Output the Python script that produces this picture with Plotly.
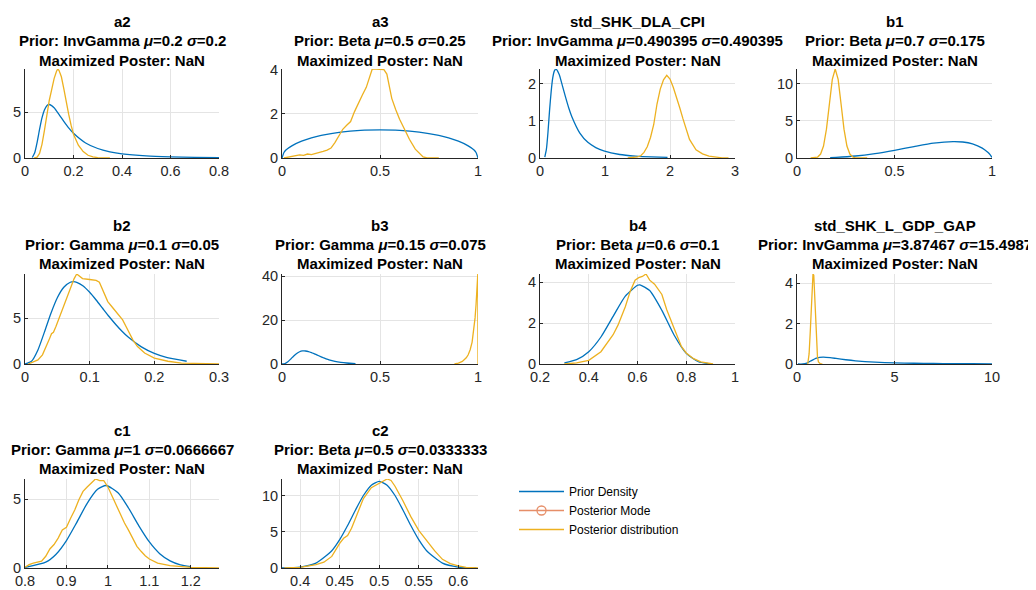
import plotly.graph_objects as go

# ---------------- data ----------------
names = ["a2", "a3", "std_SHK_DLA_CPI", "b1", "b2", "b3", "b4", "std_SHK_L_GDP_GAP", "c1", "c2"]
prior_desc = [
    "Prior: InvGamma <i>μ</i>=0.2 <i>σ</i>=0.2",
    "Prior: Beta <i>μ</i>=0.5 <i>σ</i>=0.25",
    "Prior: InvGamma <i>μ</i>=0.490395 <i>σ</i>=0.490395",
    "Prior: Beta <i>μ</i>=0.7 <i>σ</i>=0.175",
    "Prior: Gamma <i>μ</i>=0.1 <i>σ</i>=0.05",
    "Prior: Gamma <i>μ</i>=0.15 <i>σ</i>=0.075",
    "Prior: Beta <i>μ</i>=0.6 <i>σ</i>=0.1",
    "Prior: InvGamma <i>μ</i>=3.87467 <i>σ</i>=15.4987",
    "Prior: Gamma <i>μ</i>=1 <i>σ</i>=0.0666667",
    "Prior: Beta <i>μ</i>=0.5 <i>σ</i>=0.0333333",
]
mode_text = "Maximized Poster: NaN"

a2_prior_x = [0.03, 0.04, 0.05, 0.06, 0.07, 0.08, 0.09, 0.10, 0.12, 0.14, 0.16, 0.18, 0.20, 0.25, 0.30, 0.35, 0.40, 0.50, 0.60, 0.70, 0.80]
a2_prior_y = [0.06, 0.57, 1.72, 3.14, 4.40, 5.26, 5.73, 5.86, 5.51, 4.78, 4.01, 3.30, 2.71, 1.65, 1.04, 0.68, 0.46, 0.23, 0.13, 0.075, 0.047]
a2_post_x = [0.037, 0.05, 0.06, 0.07, 0.08, 0.09, 0.10, 0.11, 0.12, 0.13, 0.135, 0.14, 0.15, 0.16, 0.17, 0.18, 0.19, 0.20, 0.22, 0.24, 0.26, 0.28, 0.30, 0.35]
a2_post_y = [0.0, 0.1, 0.5, 1.5, 3.0, 4.8, 6.3, 7.5, 8.7, 9.5, 9.75, 9.6, 8.9, 7.6, 6.1, 4.8, 3.6, 2.6, 1.4, 0.7, 0.3, 0.12, 0.04, 0.0]

a3_prior_x = [0.0, 0.01, 0.02, 0.05, 0.1, 0.15, 0.2, 0.3, 0.4, 0.5, 0.6, 0.7, 0.8, 0.85, 0.9, 0.95, 0.98, 0.99, 1.0]
a3_prior_y = [0.0, 0.25, 0.36, 0.55, 0.76, 0.91, 1.02, 1.17, 1.25, 1.27, 1.25, 1.17, 1.02, 0.91, 0.76, 0.55, 0.36, 0.25, 0.0]
a3_post_x = [0.01, 0.03, 0.05, 0.07, 0.09, 0.11, 0.13, 0.15, 0.17, 0.19, 0.21, 0.23, 0.25, 0.27, 0.29, 0.31, 0.33, 0.35, 0.37, 0.39, 0.41, 0.43, 0.45, 0.46, 0.48, 0.50, 0.52, 0.535, 0.55, 0.56, 0.58, 0.60, 0.627, 0.65, 0.68, 0.70, 0.72, 0.74, 0.80]
a3_post_y = [0.0, 0.03, 0.05, 0.1, 0.14, 0.12, 0.18, 0.15, 0.2, 0.22, 0.3, 0.36, 0.45, 0.7, 1.0, 1.3, 1.48, 1.65, 2.1, 2.5, 2.85, 3.2, 3.8, 4.02, 4.03, 4.02, 4.0, 3.8, 3.1, 2.7, 2.2, 1.75, 1.27, 0.85, 0.4, 0.2, 0.05, 0.0, 0.0]

dla_prior_x = [0.074, 0.098, 0.123, 0.147, 0.172, 0.196, 0.221, 0.245, 0.294, 0.343, 0.392, 0.441, 0.490, 0.613, 0.736, 0.858, 0.981, 1.226, 1.471, 1.716, 1.962]
dla_prior_y = [0.026, 0.23, 0.70, 1.28, 1.79, 2.15, 2.34, 2.39, 2.25, 1.95, 1.64, 1.35, 1.11, 0.67, 0.42, 0.28, 0.19, 0.094, 0.052, 0.031, 0.019]
dla_post_x = [1.35, 1.45, 1.5, 1.55, 1.6, 1.65, 1.7, 1.75, 1.8, 1.85, 1.9, 1.95, 2.0, 2.05, 2.1, 2.15, 2.2, 2.25, 2.3, 2.4, 2.5, 2.6, 2.7, 2.8, 2.9]
dla_post_y = [0.0, 0.01, 0.03, 0.06, 0.15, 0.3, 0.55, 0.9, 1.45, 1.85, 2.1, 2.22, 2.12, 1.9, 1.65, 1.35, 1.05, 0.75, 0.5, 0.22, 0.11, 0.05, 0.02, 0.005, 0.0]

b1_prior_x = [0.17, 0.2, 0.3, 0.4, 0.5, 0.6, 0.7, 0.8, 0.85, 0.9, 0.95, 0.98, 0.99, 1.0]
b1_prior_y = [0.054, 0.086, 0.27, 0.60, 1.04, 1.54, 2.0, 2.22, 2.16, 1.90, 1.33, 0.73, 0.45, 0.08]
b1_post_x = [0.07, 0.09, 0.106, 0.121, 0.136, 0.151, 0.166, 0.181, 0.196, 0.211, 0.226, 0.241, 0.256, 0.271, 0.286, 0.30, 0.33, 0.36]
b1_post_y = [0.0, 0.03, 0.13, 0.53, 1.62, 3.89, 7.28, 10.6, 12.0, 10.6, 7.28, 3.89, 1.62, 0.53, 0.13, 0.03, 0.005, 0.0]

b2_prior_x = [0.0, 0.01, 0.02, 0.03, 0.04, 0.05, 0.06, 0.07, 0.075, 0.08, 0.09, 0.10, 0.11, 0.12, 0.13, 0.14, 0.15, 0.16, 0.18, 0.20, 0.22, 0.25]
b2_prior_y = [0.0, 0.29, 1.53, 3.47, 5.51, 7.22, 8.36, 8.90, 8.96, 8.90, 8.50, 7.81, 6.97, 6.07, 5.17, 4.33, 3.57, 2.90, 1.86, 1.15, 0.69, 0.30]
b2_post_x = [0.005, 0.014, 0.02, 0.027, 0.032, 0.037, 0.041, 0.044, 0.048, 0.055, 0.063, 0.071, 0.076, 0.080, 0.084, 0.089, 0.10, 0.11, 0.115, 0.12, 0.128, 0.136, 0.143, 0.151, 0.159, 0.167, 0.174, 0.185, 0.20, 0.221, 0.242, 0.273, 0.30]
b2_post_y = [0.0, 0.3, 0.45, 1.0, 1.75, 2.6, 3.3, 3.45, 4.1, 5.4, 6.8, 8.3, 9.3, 9.8, 9.6, 9.3, 9.2, 9.1, 8.9, 8.1, 6.8, 6.1, 5.5, 4.8, 3.7, 2.6, 1.9, 1.2, 0.65, 0.3, 0.1, 0.02, 0.0]

b3_prior_x = [0.0, 0.015, 0.03, 0.045, 0.06, 0.075, 0.09, 0.105, 0.1125, 0.12, 0.135, 0.15, 0.165, 0.18, 0.195, 0.21, 0.225, 0.24, 0.27, 0.30, 0.33, 0.375]
b3_prior_y = [0.0, 0.19, 1.02, 2.31, 3.67, 4.81, 5.57, 5.93, 5.97, 5.93, 5.67, 5.21, 4.65, 4.05, 3.45, 2.89, 2.38, 1.93, 1.24, 0.76, 0.46, 0.20]
b3_post_x = [0.88, 0.9, 0.92, 0.94, 0.95, 0.96, 0.97, 0.98, 0.985, 0.99, 0.995, 0.999, 1.0]
b3_post_y = [0.0, 0.4, 1.2, 2.8, 4.2, 6.5, 10.0, 16.0, 21.0, 27.0, 33.0, 41.0, 0.0]

b4_prior_x = [0.3, 0.35, 0.4, 0.45, 0.5, 0.55, 0.6, 0.61, 0.65, 0.7, 0.75, 0.8, 0.85, 0.9]
b4_prior_y = [0.053, 0.21, 0.60, 1.32, 2.33, 3.32, 3.85, 3.87, 3.59, 2.62, 1.42, 0.52, 0.11, 0.008]
b4_post_x = [0.30, 0.35, 0.40, 0.45, 0.50, 0.52, 0.55, 0.57, 0.59, 0.605, 0.62, 0.635, 0.65, 0.67, 0.70, 0.72, 0.75, 0.78, 0.80, 0.83, 0.86, 0.90, 0.91]
b4_post_y = [0.0, 0.05, 0.18, 0.6, 1.43, 1.9, 2.8, 3.55, 4.1, 4.22, 4.28, 4.4, 4.1, 3.9, 3.4, 2.65, 1.75, 0.86, 0.54, 0.26, 0.1, 0.02, 0.0]

gdp_prior_x = [0.05, 0.3, 0.5, 0.7, 1.0, 1.344, 1.7, 2.0, 2.5, 3.0, 4.0, 5.0, 6.0, 7.0, 8.0, 9.0, 10.0]
gdp_prior_y = [0.0, 0.001, 0.040, 0.150, 0.294, 0.341, 0.315, 0.276, 0.210, 0.158, 0.092, 0.057, 0.038, 0.026, 0.019, 0.014, 0.010]
gdp_post_x = [0.55, 0.62, 0.68, 0.73, 0.78, 0.82, 0.86, 0.9, 0.95, 1.0, 1.05, 1.1, 1.2, 1.3]
gdp_post_y = [0.0, 0.5, 1.6, 2.9, 4.1, 4.46, 4.4, 3.6, 2.2, 1.0, 0.35, 0.1, 0.01, 0.0]

c1_prior_x = [0.8, 0.85, 0.875, 0.9, 0.925, 0.95, 0.975, 0.9956, 1.025, 1.05, 1.075, 1.1, 1.125, 1.15, 1.175, 1.2]
c1_prior_y = [0.041, 0.42, 1.0, 1.99, 3.31, 4.69, 5.70, 5.98, 5.43, 4.33, 3.04, 1.89, 1.04, 0.52, 0.23, 0.093]
c1_post_x = [0.80, 0.81, 0.82, 0.84, 0.85, 0.86, 0.87, 0.88, 0.89, 0.90, 0.91, 0.92, 0.93, 0.94, 0.95, 0.96, 0.97, 0.98, 0.99, 1.00, 1.01, 1.02, 1.03, 1.04, 1.05, 1.06, 1.07, 1.08, 1.09, 1.10, 1.12, 1.15, 1.20, 1.268]
c1_post_y = [0.05, 0.24, 0.36, 0.5, 0.85, 1.38, 1.7, 2.17, 2.75, 2.95, 3.6, 4.2, 4.95, 5.55, 5.87, 6.16, 6.45, 6.33, 6.33, 5.87, 5.19, 4.52, 3.86, 3.26, 2.73, 2.17, 1.57, 1.21, 0.89, 0.65, 0.36, 0.17, 0.05, 0.01]

c2_prior_x = [0.377, 0.40, 0.42, 0.44, 0.45, 0.46, 0.47, 0.48, 0.49, 0.50, 0.51, 0.52, 0.53, 0.54, 0.55, 0.56, 0.58, 0.60, 0.623]
c2_prior_y = [0.012, 0.13, 0.67, 2.39, 3.92, 5.87, 8.02, 10.02, 11.45, 11.97, 11.45, 10.02, 8.02, 5.87, 3.92, 2.39, 0.67, 0.13, 0.012]
c2_post_x = [0.38, 0.40, 0.42, 0.43, 0.44, 0.45, 0.455, 0.46, 0.465, 0.47, 0.48, 0.49, 0.495, 0.50, 0.505, 0.51, 0.515, 0.52, 0.53, 0.54, 0.55, 0.56, 0.57, 0.58, 0.59, 0.60, 0.61, 0.625]
c2_post_y = [0.0, 0.09, 0.45, 0.8, 1.6, 3.4, 4.1, 4.5, 5.5, 6.9, 9.6, 11.1, 11.4, 11.7, 12.1, 12.3, 12.1, 11.3, 9.3, 7.1, 5.2, 3.8, 2.4, 1.2, 0.6, 0.3, 0.08, 0.0]

x_ranges = [[0, 0.8], [0, 1], [0, 3], [0, 1], [0, 0.3], [0, 1], [0.2, 1], [0, 10], [0.8, 1.268], [0.377, 0.625]]
x_ticks = [[0, 0.2, 0.4, 0.6, 0.8], [0, 0.5, 1], [0, 1, 2, 3], [0, 0.5, 1], [0, 0.1, 0.2, 0.3],
           [0, 0.5, 1], [0.2, 0.4, 0.6, 0.8, 1], [0, 5, 10], [0.8, 0.9, 1, 1.1, 1.2], [0.4, 0.45, 0.5, 0.55, 0.6]]
y_ticks = [[0, 5], [0, 2, 4], [0, 1, 2], [0, 5, 10], [0, 5], [0, 20, 40], [0, 2, 4], [0, 2, 4], [0, 5], [0, 5, 10]]

priors = [(a2_prior_x, a2_prior_y), (a3_prior_x, a3_prior_y), (dla_prior_x, dla_prior_y), (b1_prior_x, b1_prior_y),
          (b2_prior_x, b2_prior_y), (b3_prior_x, b3_prior_y), (b4_prior_x, b4_prior_y), (gdp_prior_x, gdp_prior_y),
          (c1_prior_x, c1_prior_y), (c2_prior_x, c2_prior_y)]
posts = [(a2_post_x, a2_post_y), (a3_post_x, a3_post_y), (dla_post_x, dla_post_y), (b1_post_x, b1_post_y),
         (b2_post_x, b2_post_y), (b3_post_x, b3_post_y), (b4_post_x, b4_post_y), (gdp_post_x, gdp_post_y),
         (c1_post_x, c1_post_y), (c2_post_x, c2_post_y)]

# ---------------- layout geometry (page pixels) ----------------
PAGE_W, PAGE_H = 1036, 590
OFF = 8                       # default page margin around the plot div
W, H = PAGE_W - OFF, PAGE_H - OFF
col_px = [(25, 219), (282, 478), (540, 735), (797, 992)]
row_px = [(69, 158), (274, 364), (479, 568)]
title_line_px = [(21.7, 40.7, 60), (225, 244, 263.5), (430, 449, 468.5)]   # centre of each title line


def fx(p):
    return (p - OFF) / W


def fy(p):
    return 1 - (p - OFF) / H


BLUE = "#0072BD"
ORANGE = "#D95319"
YELLOW = "#EDB120"
FONT = "Liberation Sans, Arial, Helvetica, sans-serif"
AX = "#262626"

fig = go.Figure()
annotations = []
layout_axes = {}

for i in range(10):
    r, c = divmod(i, 4)
    x0, x1 = col_px[c]
    y0, y1 = row_px[r]
    xd = [fx(x0), fx(x1)]
    yd = [fy(y1), fy(y0)]
    n = i + 1
    xk = "xaxis" if n == 1 else f"xaxis{n}"
    yk = "yaxis" if n == 1 else f"yaxis{n}"
    xr = "x" if n == 1 else f"x{n}"
    yr = "y" if n == 1 else f"y{n}"
    px, py = priors[i]
    qx, qy = posts[i]
    ytop = max(max(py), max(qy))
    common = dict(showgrid=True, gridcolor="#e4e4e4", gridwidth=1, zeroline=False,
                  showline=True, linecolor=AX, linewidth=1, mirror=False,
                  ticks="inside", ticklen=3, tickcolor=AX, automargin=False,
                  tickfont=dict(family=FONT, size=14.5, color=AX), fixedrange=True)
    layout_axes[xk] = dict(domain=xd, anchor=yr, range=x_ranges[i], tickmode="array",
                           tickvals=x_ticks[i], ticktext=[f"{v:g}" for v in x_ticks[i]], **common)
    layout_axes[yk] = dict(domain=yd, anchor=xr, range=[0, ytop], tickmode="array",
                           tickvals=y_ticks[i], ticktext=[f"{v:g}" for v in y_ticks[i]], **common)

    fig.add_trace(go.Scatter(x=px, y=py, mode="lines", line=dict(color=BLUE, width=1.3, shape="spline", smoothing=0.6),
                             name="Prior Density", showlegend=(i == 0), legendrank=1,
                             xaxis=xr, yaxis=yr, hoverinfo="skip"))
    fig.add_trace(go.Scatter(x=qx, y=qy, mode="lines", line=dict(color=YELLOW, width=1.3),
                             name="Posterior distribution", showlegend=(i == 0), legendrank=3,
                             xaxis=xr, yaxis=yr, hoverinfo="skip"))

    xc = (xd[0] + xd[1]) / 2
    for line_text, ly in zip([names[i], prior_desc[i], mode_text], title_line_px[r]):
        annotations.append(dict(text=f"<b>{line_text}</b>", x=xc, y=fy(ly), xref="paper", yref="paper",
                                xanchor="center", yanchor="middle", showarrow=False,
                                font=dict(family=FONT, size=15, color="#000000")))

# legend-only entry for the (NaN) posterior mode
fig.add_trace(go.Scatter(x=[None], y=[None], mode="lines+markers", name="Posterior Mode",
                         line=dict(color=ORANGE, width=1.3), opacity=0.65,
                         marker=dict(symbol="circle-open", size=9, color=ORANGE, line=dict(width=1.3)),
                         legendrank=2, showlegend=True, xaxis="x", yaxis="y"))

fig.update_layout(
    width=W, height=H, margin=dict(l=0, r=0, t=0, b=0, pad=0, autoexpand=False),
    paper_bgcolor="white", plot_bgcolor="white",
    annotations=annotations,
    showlegend=True,
    legend=dict(x=fx(514), y=fy(477), xanchor="left", yanchor="top",
                font=dict(family=FONT, size=12, color="#000000"),
                bgcolor="rgba(255,255,255,0)", borderwidth=0, itemwidth=45,
                tracegroupgap=0),
    **layout_axes,
)

fig.write_html("out.html")
